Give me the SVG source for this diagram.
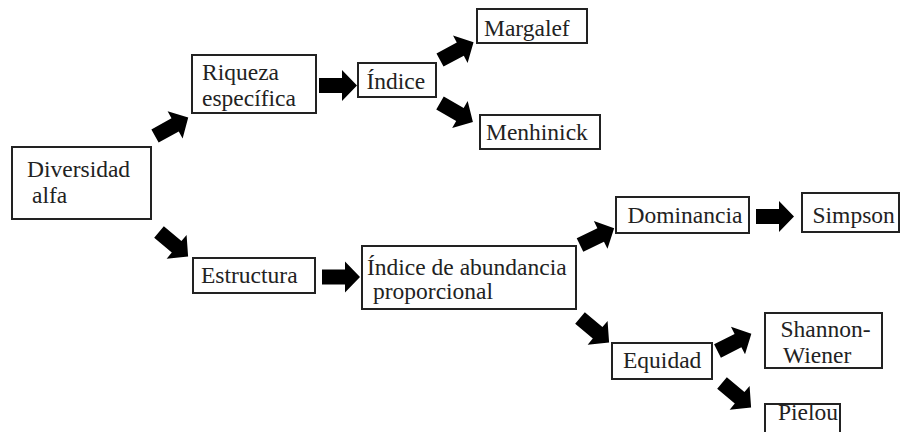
<svg xmlns="http://www.w3.org/2000/svg" width="901" height="432" viewBox="0 0 901 432">
<style>
.box{fill:#fff;stroke:#222;stroke-width:2}
.arr{fill:#000}
.lbl{font-family:'Liberation Serif',serif;font-size:23.5px;fill:#222}
</style>
<rect width="901" height="432" fill="#fff"/>
<g id="connectors">
<path class="arr" d="M0,-7.5 L23,-7.5 L23,-15.5 L38,0 L23,15.5 L23,7.5 L0,7.5 Z" transform="translate(155,136) rotate(-29)"/>
<path class="arr" d="M0,-7.5 L23,-7.5 L23,-15.5 L38,0 L23,15.5 L23,7.5 L0,7.5 Z" transform="translate(159,232) rotate(40)"/>
<path class="arr" d="M0,-7.5 L23,-7.5 L23,-15.5 L38,0 L23,15.5 L23,7.5 L0,7.5 Z" transform="translate(319,85.5)"/>
<path class="arr" d="M0,-7.5 L23,-7.5 L23,-15.5 L38,0 L23,15.5 L23,7.5 L0,7.5 Z" transform="translate(440,60) rotate(-28)"/>
<path class="arr" d="M0,-7.5 L23,-7.5 L23,-15.5 L38,0 L23,15.5 L23,7.5 L0,7.5 Z" transform="translate(440,103) rotate(30)"/>
<path class="arr" d="M0,-7.5 L23,-7.5 L23,-15.5 L38,0 L23,15.5 L23,7.5 L0,7.5 Z" transform="translate(322,277)"/>
<path class="arr" d="M0,-7.5 L23,-7.5 L23,-15.5 L38,0 L23,15.5 L23,7.5 L0,7.5 Z" transform="translate(580,245) rotate(-26)"/>
<path class="arr" d="M0,-7.5 L23,-7.5 L23,-15.5 L38,0 L23,15.5 L23,7.5 L0,7.5 Z" transform="translate(580,318) rotate(40)"/>
<path class="arr" d="M0,-7.5 L23,-7.5 L23,-15.5 L38,0 L23,15.5 L23,7.5 L0,7.5 Z" transform="translate(756,216.5)"/>
<path class="arr" d="M0,-7.5 L23,-7.5 L23,-15.5 L38,0 L23,15.5 L23,7.5 L0,7.5 Z" transform="translate(717.5,351) rotate(-27)"/>
<path class="arr" d="M0,-7.5 L23,-7.5 L23,-15.5 L38,0 L23,15.5 L23,7.5 L0,7.5 Z" transform="translate(722,383) rotate(40)"/>
</g>
<g id="diversidad"><rect class="box" x="12" y="147" width="139" height="72"/><text class="lbl" x="27" y="177" font-family="Liberation Serif" font-size="23.5">Diversidad</text><text class="lbl" x="32" y="203" font-family="Liberation Serif" font-size="23.5">alfa</text></g>
<g id="riqueza"><rect class="box" x="192" y="55" width="124" height="58"/><text class="lbl" x="202" y="79.5" font-family="Liberation Serif" font-size="23.5">Riqueza</text><text class="lbl" x="202" y="106" font-family="Liberation Serif" font-size="23.5">específica</text></g>
<g id="indice"><rect class="box" x="358" y="63" width="78" height="34"/><text class="lbl" x="366.5" y="89" font-family="Liberation Serif" font-size="23.5">Índice</text></g>
<g id="margalef"><rect class="box" x="477" y="9" width="110" height="34"/><text class="lbl" x="484" y="36" font-family="Liberation Serif" font-size="23.5">Margalef</text></g>
<g id="menhinick"><rect class="box" x="480" y="115" width="120" height="34"/><text class="lbl" x="486" y="140" font-family="Liberation Serif" font-size="23.5">Menhinick</text></g>
<g id="estructura"><rect class="box" x="193" y="258" width="122" height="35"/><text class="lbl" x="201" y="283" font-family="Liberation Serif" font-size="23.5">Estructura</text></g>
<g id="abundancia"><rect class="box" x="362" y="246" width="214" height="63"/><text class="lbl" x="367" y="275" font-family="Liberation Serif" font-size="23.5">Índice de abundancia</text><text class="lbl" x="373" y="299" font-family="Liberation Serif" font-size="23.5">proporcional</text></g>
<g id="dominancia"><rect class="box" x="616" y="197" width="133" height="36"/><text class="lbl" x="627.5" y="223" font-family="Liberation Serif" font-size="23.5">Dominancia</text></g>
<g id="simpson"><rect class="box" x="802" y="193" width="97" height="39"/><text class="lbl" x="812.5" y="223" font-family="Liberation Serif" font-size="23.5">Simpson</text></g>
<g id="equidad"><rect class="box" x="612" y="343" width="100" height="36"/><text class="lbl" x="623" y="368" font-family="Liberation Serif" font-size="23.5">Equidad</text></g>
<g id="shannon"><rect class="box" x="765" y="313" width="117" height="55"/><text class="lbl" x="780.5" y="337" font-family="Liberation Serif" font-size="23.5">Shannon-</text><text class="lbl" x="783" y="363" font-family="Liberation Serif" font-size="23.5">Wiener</text></g>
<g id="pielou"><rect class="box" x="765" y="404" width="75" height="34"/><text class="lbl" x="778" y="420" font-family="Liberation Serif" font-size="23.5">Pielou</text></g>
</svg>
